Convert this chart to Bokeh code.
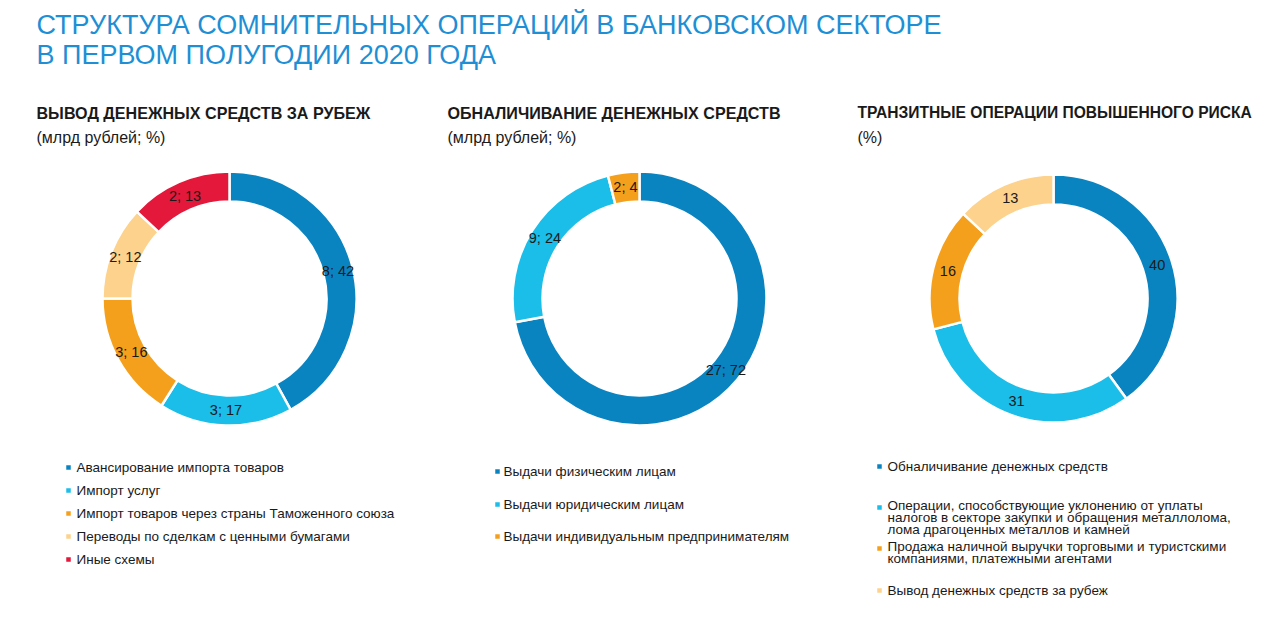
import math
from bokeh.plotting import figure
from bokeh.models import Range1d, ColumnDataSource
from bokeh.core.properties import value
from bokeh.embed import file_html
from bokeh.resources import INLINE

# ---------------- data ----------------
title_lines = ["СТРУКТУРА СОМНИТЕЛЬНЫХ ОПЕРАЦИЙ В БАНКОВСКОМ СЕКТОРЕ",
               "В ПЕРВОМ ПОЛУГОДИИ 2020 ГОДА"]

out_title = "ВЫВОД ДЕНЕЖНЫХ СРЕДСТВ ЗА РУБЕЖ"
out_unit = "(млрд рублей; %)"
out_labels = ["Авансирование импорта товаров", "Импорт услуг",
              "Импорт товаров через страны Таможенного союза",
              "Переводы по сделкам с ценными бумагами", "Иные схемы"]
out_bn = [8, 3, 3, 2, 2]
out_pct = [42, 17, 16, 12, 13]

cash_title = "ОБНАЛИЧИВАНИЕ ДЕНЕЖНЫХ СРЕДСТВ"
cash_unit = "(млрд рублей; %)"
cash_labels = ["Выдачи физическим лицам", "Выдачи юридическим лицам",
               "Выдачи индивидуальным предпринимателям"]
cash_bn = [27, 9, 2]
cash_pct = [72, 24, 4]

tr_title = "ТРАНЗИТНЫЕ ОПЕРАЦИИ ПОВЫШЕННОГО РИСКА"
tr_unit = "(%)"
tr_labels = ["Обналичивание денежных средств",
             "Операции, способствующие уклонению от уплаты\nналогов в секторе закупки и обращения металлолома,\nлома драгоценных металлов и камней",
             "Продажа наличной выручки торговыми и туристскими\nкомпаниями, платежными агентами",
             "Вывод денежных средств за рубеж"]
tr_pct = [40, 31, 16, 13]

# ---------------- styles ----------------
DARK = "#0a84c1"
LIGHT = "#1bbde9"
ORANGE = "#f5a01d"
PALE = "#fdd28c"
RED = "#e3183a"
TITLE_BLUE = "#1e8fd5"
TXT = "#1a1a1a"
FONT = "Liberation Sans"

W, H = 1264, 602


def Y(ref_y):
    return H - ref_y


def X(ref_x):
    return ref_x


p = figure(width=W, height=H, output_backend="svg", toolbar_location=None,
           x_range=Range1d(0, W), y_range=Range1d(0, H),
           min_border=0, outline_line_color=None,
           x_axis_location=None, y_axis_location=None)
p.xgrid.visible = False
p.ygrid.visible = False


def txt(x, y, s, size, color=TXT, style="normal", align="left", font=FONT):
    p.text(x=[X(x)], y=[Y(y)], text=[s], text_font=value(font),
           text_font_size=size, text_color=color, text_font_style=style,
           text_align=align, text_baseline="middle")


def donut(cx, cy, r_in, r_out, pct, colors, labels, r_lab):
    total = float(sum(pct))
    starts, ends, mids = [], [], []
    cum = 0.0
    for v in pct:
        a0 = math.pi / 2 - 2 * math.pi * cum / total
        cum += v
        a1 = math.pi / 2 - 2 * math.pi * cum / total
        starts.append(a0)
        ends.append(a1)
        mids.append((a0 + a1) / 2)
    src = ColumnDataSource(dict(x=[X(cx)] * len(pct), y=[Y(cy)] * len(pct),
                                start=starts, end=ends, color=colors))
    p.annular_wedge(x="x", y="y", inner_radius=r_in, outer_radius=r_out,
                    start_angle="start", end_angle="end", direction="clock",
                    fill_color="color", line_color="white", line_width=2.5,
                    source=src)
    lx = [X(cx) + r_lab * math.cos(m) for m in mids]
    ly = [Y(cy) + r_lab * math.sin(m) for m in mids]
    p.text(x=lx, y=ly, text=labels, text_font=value(FONT), text_font_size="14.5px",
           text_color=TXT, text_align="center", text_baseline="middle")


def legend(mx, tx, rows, colors, labels, line_gap=12):
    for yy, c, lab in zip(rows, colors, labels):
        lines = lab.split("\n")
        p.scatter(x=[X(mx)], y=[Y(yy + (2 if len(lines) > 1 else 0))], marker="square",
                  size=4.5, fill_color=c, line_color=None)
        for k, ln in enumerate(lines):
            txt(tx, yy + k * line_gap, ln, "13.5px")


# titles
txt(36, 24, title_lines[0], "27px", color=TITLE_BLUE)
txt(36, 54, title_lines[1], "27px", color=TITLE_BLUE)

# sub titles
for x0, t, u, fs in [(36, out_title, out_unit, "16.1px"),
                     (447, cash_title, cash_unit, "16.1px"),
                     (857, tr_title, tr_unit, "15.6px")]:
    txt(x0, 112, t, fs, style="bold")
    txt(x0, 137, u, "16px")

# donut 1
c1 = [DARK, LIGHT, ORANGE, PALE, RED]
donut(229, 298, 97, 127, out_pct, c1,
      [f"{b}; {q}" for b, q in zip(out_bn, out_pct)], 112)
legend(68, 76, [467, 490, 513, 536, 559], c1, out_labels)

# donut 2
c2 = [DARK, LIGHT, ORANGE]
donut(639, 298, 97, 127, cash_pct, c2,
      [f"{b}; {q}" for b, q in zip(cash_bn, cash_pct)], 112)
legend(497, 503, [471, 504, 536], c2, cash_labels)

# donut 3
c3 = [DARK, LIGHT, ORANGE, PALE]
donut(1053, 298, 94, 124, tr_pct, c3, [str(q) for q in tr_pct], 109)
legend(879, 887, [466, 505, 546, 590], c3, tr_labels)

open("out.html", "w").write(file_html(p, INLINE))
